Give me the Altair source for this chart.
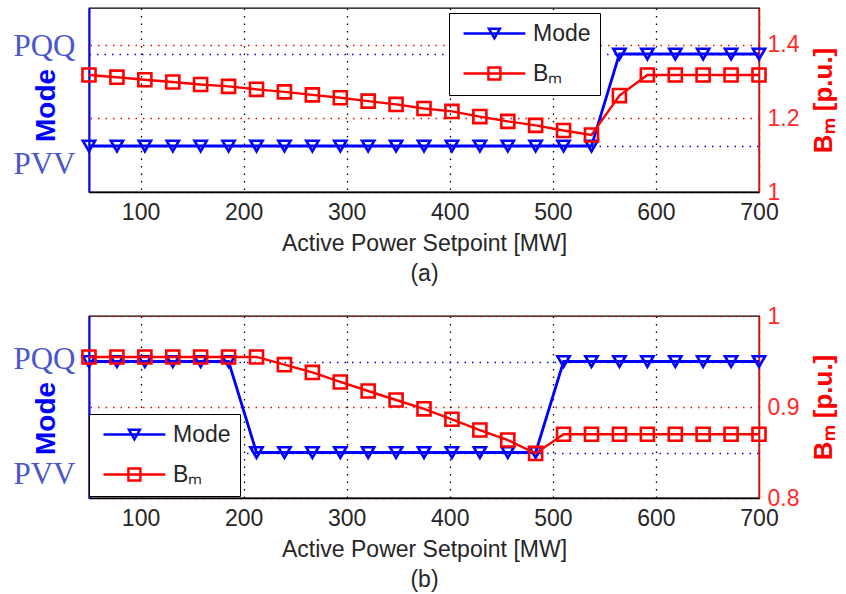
import altair as alt
import pandas as pd

# ---- data ----
setpoint_mw = [50, 77.1, 104.2, 131.3, 158.3, 185.4, 212.5, 239.6, 266.7, 293.8,
               320.8, 347.9, 375, 402.1, 429.2, 456.3, 483.3, 510.4, 537.5, 564.6,
               591.7, 618.8, 645.8, 672.9, 700]
# mode: 0 = PVV, 1 = PQQ
mode_a = [0, 0, 0, 0, 0, 0, 0, 0, 0, 0, 0, 0, 0, 0, 0, 0, 0, 0, 0, 1, 1, 1, 1, 1, 1]
bm_a = [1.318, 1.312, 1.305, 1.299, 1.292, 1.287, 1.279, 1.272, 1.264, 1.256,
        1.247, 1.238, 1.227, 1.219, 1.205, 1.192, 1.181, 1.167, 1.155, 1.262,
        1.318, 1.318, 1.318, 1.318, 1.318]
mode_b = [1, 1, 1, 1, 1, 1, 0, 0, 0, 0, 0, 0, 0, 0, 0, 0, 0, 1, 1, 1, 1, 1, 1, 1, 1]
bm_b = [0.955, 0.955, 0.955, 0.955, 0.955, 0.955, 0.955, 0.9465, 0.938, 0.9275,
        0.9176, 0.9077, 0.898, 0.8865, 0.8747, 0.8637, 0.849, 0.870, 0.870, 0.870,
        0.870, 0.870, 0.870, 0.870, 0.870]
x_ticks = [100, 200, 300, 400, 500, 600, 700]
mode_ticks = [0, 1]
series_names = ["Mode", "B\u2098"]

BLUE = "#0000ff"
RED = "#ff0000"
SANS = "Liberation Sans"
SERIF = "Liberation Serif"
TXT = "#262626"

# legend symbols: line with marker in the middle (unit = sqrt(size)/2)
path_mode = "M-1,0H9.3M3.23,-0.8L5.07,-0.8L4.15,0.8Z"
path_bm = "M-1,0H9.3M3.15,-1H5.15V1H3.15Z"


def panel(mode, bm, bm_domain, bm_ticks, tag, leg_x, leg_y, pqq_off, pvv_off,
          mode_title_y, bm_title_y, h):
    df = pd.DataFrame({"x": setpoint_mw, "mode": mode, "bm": bm})
    base = alt.Chart(df)
    xenc = alt.X(
        "x:Q",
        scale=alt.Scale(domain=[50, 700], nice=False, zero=False),
        axis=alt.Axis(
            values=x_ticks, grid=True, gridColor="#000000", gridDash=[1.5, 6],
            gridWidth=1.3, ticks=False, tickSize=0, labelPadding=9,
            labelFlush=False, labelOverlap=False,
            labelFont=SANS, labelFontSize=23, labelColor=TXT,
            domainColor="#000000", domainWidth=1.3,
            title=["Active Power Setpoint [MW]", tag], titleFont=SANS,
            titleFontSize=23, titleFontWeight="normal", titleColor=TXT,
            titlePadding=8, titleLineHeight=30,
        ),
    )
    ymode = alt.Y(
        "mode:Q",
        scale=alt.Scale(domain=[-0.5, 1.5], nice=False, zero=False),
        axis=alt.Axis(
            orient="left", values=mode_ticks,
            labelExpr="datum.value == 1 ? 'PQQ' : 'PVV'",
            labelFont=SERIF, labelFontSize=31, labelColor="#4a56cc",
            labelPadding=14,
            labelOffset={"condition": {"test": "datum.value == 1", "value": pqq_off},
                         "value": pvv_off},
            ticks=False, tickSize=0,
            grid=True, gridColor=BLUE, gridDash=[1.5, 6], gridWidth=1.3,
            domainColor=BLUE, domainWidth=2,
            title="Mode", titleFont=SANS, titleFontSize=28, titleFontWeight="bold",
            titleColor=BLUE, titleAngle=270, titleX=-43, titleY=mode_title_y,
            titleAlign="center", titleBaseline="middle",
        ),
    )
    ybm = alt.Y(
        "bm:Q",
        scale=alt.Scale(domain=bm_domain, nice=False, zero=False),
        axis=alt.Axis(
            orient="right", values=bm_ticks, format="~g",
            labelFont=SANS, labelFontSize=23, labelColor="#ff2a2a",
            labelPadding=8, ticks=False, tickSize=0,
            grid=True, gridColor=RED, gridDash=[1.5, 6], gridWidth=1.3,
            domainColor=RED, domainWidth=1.5,
            title="B\u2098 [p.u.]", titleFont=SANS, titleFontSize=26,
            titleFontWeight="bold", titleColor=RED, titleAngle=270,
            titleX=64, titleY=bm_title_y, titleAlign="center",
            titleBaseline="middle",
        ),
    )
    blue_line = base.mark_line(color=BLUE, strokeWidth=2.8).encode(x=xenc, y=ymode)
    blue_pts = base.mark_point(shape="triangle-down", filled=False, color=BLUE,
                               size=150, strokeWidth=2.6, opacity=1).encode(x=xenc, y=ymode)
    legend_layer = base.transform_calculate(s="'Mode'").transform_filter("false").mark_point(
        filled=False, strokeWidth=2.4, opacity=1
    ).encode(
        x=xenc, y=ymode,
        color=alt.Color("s:N", scale=alt.Scale(domain=series_names, range=[BLUE, RED]),
                        legend=alt.Legend(
                            title=None, orient="none", legendX=leg_x, legendY=leg_y,
                            fillColor="white", strokeColor="#000000", padding=9,
                            symbolSize=144, symbolStrokeWidth=2.4,
                            symbolFillColor="transparent",
                            labelFont=SANS, labelFontSize=23, labelColor=TXT,
                            labelOffset=52, rowPadding=16,
                        )),
        shape=alt.Shape("s:N", scale=alt.Scale(domain=series_names,
                                               range=[path_mode, path_bm])),
    )
    red_line = base.mark_line(color=RED, strokeWidth=2.4).encode(x=xenc, y=ybm)
    red_pts = base.mark_point(shape="square", filled=False, color=RED, size=170,
                              strokeWidth=2.6, opacity=1).encode(x=xenc, y=ybm)
    left = alt.layer(blue_line, blue_pts, legend_layer)
    right = alt.layer(red_line, red_pts)
    return alt.layer(left, right).resolve_scale(y="independent").properties(
        width=670, height=h)


pa = panel(mode_a, bm_a, [1.0, 1.5], [1.0, 1.2, 1.4], "(a)", 360, 5, -8, 18, 97, 92, 184)
pb = panel(mode_b, bm_b, [0.8, 1.0], [0.8, 0.9, 1.0], "(b)", 0, 98, -2, 22, 102, 91, 182)

chart = alt.vconcat(pa, pb, spacing=18).resolve_scale(
    color="independent", shape="independent"
).properties(
    padding={"left": 12, "top": 7, "right": 4, "bottom": 0},
    background="white",
).configure_view(stroke="#000000", strokeWidth=1.3)

chart.save("out.html", embed_options={"renderer": "svg", "actions": False})
